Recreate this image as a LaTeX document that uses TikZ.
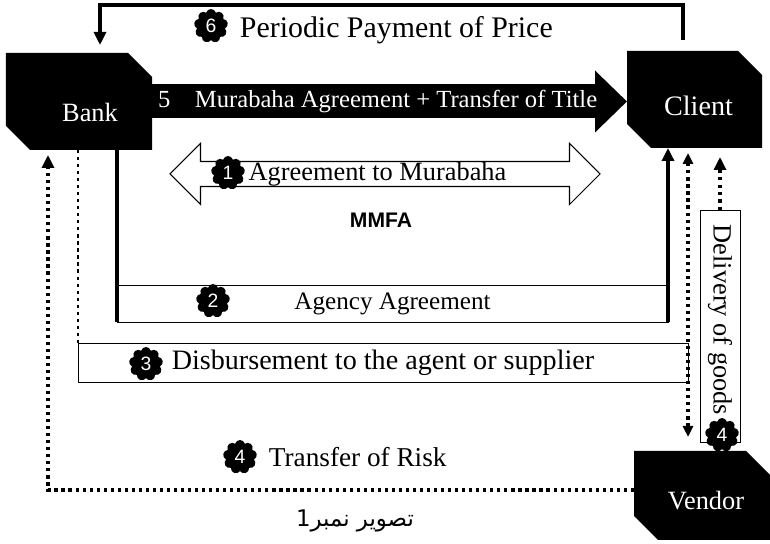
\documentclass[tikz,border=0pt]{standalone}
\usepackage{fontspec}
\setmainfont{Liberation Serif}
\setsansfont{Liberation Sans}
\newfontfamily\urdufont[Script=Arabic]{DejaVu Sans}
\TeXXeTstate=1
\usetikzlibrary{positioning,arrows.meta,shapes.misc,shapes.arrows,shapes.symbols}

\begin{document}
\begin{tikzpicture}
  [x=0.2mm,y=-0.2mm,
   every node/.style={font=\fontsize{15}{18}\selectfont},
   party/.style={chamfered rectangle,chamfered rectangle corners={north east,south west},
     chamfered rectangle xsep=5.2mm,chamfered rectangle ysep=4.8mm,
     fill=black,text=white,inner sep=0pt,outer sep=0pt},
   badge/.style={cloud,cloud puffs=9,aspect=1,fill=black,text=white,inner sep=0pt,
     minimum size=6.8mm,font=\sffamily\fontsize{11}{13}\selectfont},
   box/.style={draw,line width=0.5pt,inner sep=0pt,outer sep=0pt},
   thickline/.style={line width=2.2pt},
   dots/.style={line width=1.8pt,dash pattern=on 1.8pt off 2.2pt},
   dashes/.style={line width=1.8pt,dash pattern=on 1.8pt off 2.4pt},
   tip/.style={-{Triangle[length=2.6mm,width=2.4mm]}},
   tips/.style={{Triangle[length=2.2mm,width=2mm]}-{Triangle[length=2.2mm,width=2mm]}}]
  \useasboundingbox (0,0) rectangle (770,544);

  \node[party,minimum width=29.2mm,minimum height=19.4mm] (bank) at (79,101.5)
    {\hspace*{4.4mm}\raisebox{-4.1mm}[0pt][0pt]{Bank}};
  \node[party,minimum width=27mm,minimum height=19.4mm] (client) at (694.5,99.5)
    {\hspace*{1.6mm}\raisebox{-3.3mm}[0pt][0pt]{\fontsize{16}{19}\selectfont Client}};
  \node[party,minimum width=27.2mm,minimum height=17.8mm] (vendor) at (702,495.5)
    {\hspace*{1.6mm}\raisebox{-2.9mm}[0pt][0pt]{Vendor}};

  \draw[line width=1.8pt,tip,shorten <=2.2mm,shorten >=1.6mm]
    ([xshift=-2.3mm]client.north) -- ++(0,-46) -| ([xshift=4.2mm]bank.north);
  \node[badge] (b6) at (211,26) {6};
  \node[right=1.2mm of b6,yshift=-0.8mm,font=\fontsize{17}{20}\selectfont] (pay) {Periodic Payment of Price};

  \draw[line width=6.8mm,-{Triangle[length=6.4mm,width=12mm]}] (bank.east) -- (bank.east -| client.west)
    node[pos=0.475,text=white,font=\fontsize{14}{17}\selectfont] (title) {5\quad Murabaha Agreement + Transfer of Title};

  \node[double arrow,draw,fill=white,line width=0.6pt,inner sep=0pt,minimum height=86mm,minimum width=7mm,
    double arrow head extend=3.6mm,double arrow tip angle=90] (agree) at (385,174)
    {Agreement to Murabaha\hspace*{3mm}};
  \node[badge] (b1) at (228,173) {1};
  \node[font=\sffamily\bfseries\fontsize{12}{14}\selectfont] (mmfa) at (381,220) {MMFA};

  \node[box,minimum width=110.2mm,minimum height=7.4mm,font=\fontsize{14.3}{17}\selectfont] (agency)
    at (392.5,303.5) {Agency Agreement};
  \node[badge] (b2) at (213,301) {2};
  \draw[thickline] (agency.south west |- bank.south) -- (agency.south west);
  \draw[thickline,tip] (agency.south east) -- (agency.south east |- client.south);

  \node[box,minimum width=122mm,minimum height=7.8mm,font=\fontsize{16}{19}\selectfont] (disb)
    at (383,362.5) {Disbursement to the agent or supplier};
  \node[badge] (b3) at (146,364) {3};
  \draw[dots,line width=1.4pt] (disb.north west |- bank.south) -- (disb.north west);
  \draw[dots,tips,shorten <=1mm,shorten >=2.8mm] (disb.east |- client.south) -- (disb.east |- vendor.north);

  \node[box,rotate=-90,minimum width=46.4mm,minimum height=8mm] (deliv) at (720,326)
    {Delivery of goods\hspace*{2.4mm}};
  \node[badge] (b4d) at (722,435) {4};
  \draw[dashes,tip,shorten >=1.8mm] (deliv.west) -- (deliv.west |- client.south);

  \draw[dots,tip,shorten >=1mm] ([yshift=1.1mm]vendor.west) -| ([xshift=-6.2mm]bank.south);
  \node[badge] (b4r) at (240,457) {4};
  \node[right=1.2mm of b4r,font=\fontsize{15.5}{18}\selectfont] (risk) {Transfer of Risk};

  \node[font=\urdufont\fontsize{13}{16}\selectfont] (caption) at (355,521) {\beginR تصویر نمبر1\endR};
\end{tikzpicture}
\end{document}
